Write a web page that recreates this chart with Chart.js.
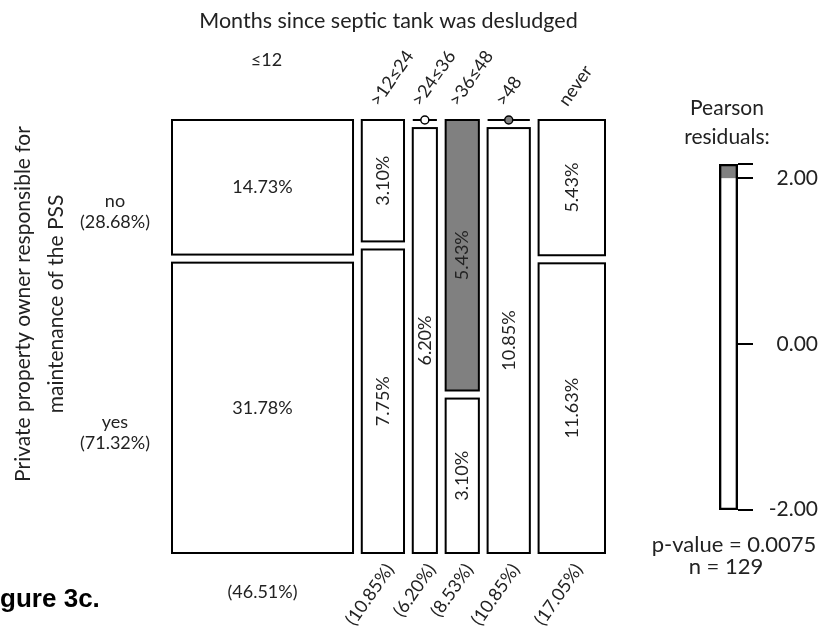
<!DOCTYPE html>
<html>
<head>
<meta charset="utf-8">
<script src="https://cdn.jsdelivr.net/npm/chart.js@4.4.1/dist/chart.umd.min.js"></script>
<style>
  html, body { margin: 0; padding: 0; background: #fff; }
  #wrap { position: relative; width: 818px; height: 630px; overflow: hidden; }
  #mosaic { position: absolute; left: 0; top: 0; }
  #legend { position: absolute; left: 700px; top: 150px; }
</style>
</head>
<body>
<div id="wrap">
  <canvas id="mosaic" width="818" height="630"></canvas>
  <canvas id="legend" width="118" height="380"></canvas>
</div>
<script>
// months since desludging (columns) x owner responsible (rows), % of n
const months = ['≤12', '>12≤24', '>24≤36', '>36≤48', '>48', 'never'];
const monthPct = [46.51, 10.85, 6.20, 8.53, 10.85, 17.05];
const owner = ['no', 'yes'];
const ownerPct = [28.68, 71.32];
const noPct = [14.73, 3.10, 0, 5.43, 0, 5.43];
const yesPct = [31.78, 7.75, 6.20, 3.10, 10.85, 11.63];
const n = 129;
const pValue = '0.0075';
const legendTicks = [-2, 0, 2];

const GAP_X = 2.25;
const GAP_Y = 1.9;
const xMax = 100 + GAP_X * (months.length - 1);
const yMax = 100 + GAP_Y;
const SHADE = '#808080';
const TXT = '#222';
const FONT = 'Lato, "Open Sans", sans-serif';
const TILT = -55 * Math.PI / 180;

// pearson residuals from the observed shares
const cells = [noPct, yesPct];
const resid = cells.map((row, r) => row.map((v, c) => {
  const e = ownerPct[r] * monthPct[c] * n / 10000;
  return (v * n / 100 - e) / Math.sqrt(e);
}));
const allRes = resid.flat();
const resMin = Math.min(...allRes);
const resMax = Math.max(...allRes);
const shadeFor = v => Math.abs(v) > 2 ? SHADE : '#fff';

const fmt = v => v.toFixed(2) + '%';

function text(ctx, str, x, y, opts = {}) {
  ctx.save();
  ctx.font = opts.font || '18px ' + FONT;
  ctx.fillStyle = opts.color || TXT;
  ctx.textAlign = opts.align || 'center';
  ctx.textBaseline = 'middle';
  ctx.translate(x, y);
  if (opts.rot) ctx.rotate(opts.rot);
  ctx.fillText(str, 0, 0);
  ctx.restore();
}

const mosaicPlugin = {
  id: 'mosaic',
  afterDraw(chart) {
    const { ctx, scales: { x, y } } = chart;
    let x0 = 0;
    months.forEach((m, c) => {
      const w = noPct[c] + yesPct[c];
      const px0 = x.getPixelForValue(x0);
      const px1 = x.getPixelForValue(x0 + w);
      const cx = (px0 + px1) / 2;
      const split = noPct[c] / w * 100;
      const spans = [[0, split], [split + GAP_Y, yMax]];

      spans.forEach(([a, b], r) => {
        const v = cells[r][c];
        const py0 = y.getPixelForValue(a);
        const py1 = y.getPixelForValue(b);
        ctx.save();
        ctx.strokeStyle = '#000';
        ctx.lineWidth = 2;
        if (v === 0) {
          ctx.beginPath();
          ctx.moveTo(px0, py0);
          ctx.lineTo(px1, py0);
          ctx.stroke();
          ctx.beginPath();
          ctx.arc(cx, py0, 4, 0, Math.PI * 2);
          ctx.fillStyle = shadeFor(resid[r][c]);
          ctx.fill();
          ctx.lineWidth = 1.5;
          ctx.stroke();
        } else {
          ctx.fillStyle = shadeFor(resid[r][c]);
          ctx.fillRect(px0, py0, px1 - px0, py1 - py0);
          ctx.strokeRect(px0, py0, px1 - px0, py1 - py0);
        }
        ctx.restore();
        if (v > 0) {
          const wide = px1 - px0 > 80;
          text(ctx, fmt(v), cx, (py0 + py1) / 2, { rot: wide ? 0 : -Math.PI / 2 });
        }
      });

      // column labels top and bottom
      if (px1 - px0 > 80) {
        text(ctx, m, cx + 4, 60);
        text(ctx, '(' + fmt(monthPct[c]) + ')', cx, 592);
      } else {
        text(ctx, m, cx - 9, 104, { align: 'left', rot: TILT });
        text(ctx, '(' + fmt(monthPct[c]) + ')', cx + 7, 566, { align: 'right', rot: TILT });
      }
      x0 += w + GAP_X;
    });

    // row labels
    const w0 = noPct[0] + yesPct[0];
    const cut = noPct[0] / w0 * 100;
    const rows = [[0, cut], [cut + GAP_Y, yMax]];
    owner.forEach((o, r) => {
      const cy = (y.getPixelForValue(rows[r][0]) + y.getPixelForValue(rows[r][1])) / 2 + 24;
      text(ctx, o, 115, cy - 10);
      text(ctx, '(' + fmt(ownerPct[r]) + ')', 115, cy + 11);
    });

    // titles
    const midX = (x.left + x.right) / 2;
    text(ctx, 'Months since septic tank was desludged', midX, 21, { font: '21.5px ' + FONT });
    text(ctx, 'Private property owner responsible for', 23, 304, { font: '21px ' + FONT, rot: -Math.PI / 2 });
    text(ctx, 'maintenance of the PSS', 56, 304, { font: '21px ' + FONT, rot: -Math.PI / 2 });

    // legend captions
    text(ctx, 'Pearson', 727, 108, { font: '21px ' + FONT });
    text(ctx, 'residuals:', 727, 137, { font: '21px ' + FONT });
    text(ctx, 'p-value = ' + pValue, 734, 545, { font: '22px ' + FONT });
    text(ctx, 'n = ' + n, 726, 567, { font: '22px ' + FONT });

    text(ctx, 'Figure 3c.', -23, 600, { align: 'left', color: '#000', font: 'bold 26px "Liberation Sans", Arial, sans-serif' });
  }
};

new Chart(document.getElementById('mosaic'), {
  type: 'scatter',
  data: { datasets: [{ data: [] }] },
  options: {
    responsive: false,
    animation: false,
    layout: { padding: { left: 172, right: 213, top: 120, bottom: 77 } },
    scales: {
      x: { display: false, min: 0, max: xMax },
      y: { display: false, min: 0, max: yMax, reverse: true }
    },
    plugins: { legend: { display: false }, tooltip: { enabled: false } }
  },
  plugins: [mosaicPlugin]
});

// shading legend
const barOpts = { barPercentage: 1, categoryPercentage: 1, grouped: false, borderSkipped: false };
new Chart(document.getElementById('legend'), {
  type: 'bar',
  data: {
    labels: [''],
    datasets: [
      { ...barOpts, data: [[resMin, resMax]], backgroundColor: 'rgba(0,0,0,0)', borderColor: '#000', borderWidth: 2 },
      { ...barOpts, data: [[2, resMax]], backgroundColor: SHADE, borderWidth: 0 },
      { ...barOpts, data: [[resMin, -2]], backgroundColor: SHADE, borderWidth: 0 },
      { ...barOpts, data: [[resMin, resMax]], backgroundColor: '#fff', borderWidth: 0 }
    ]
  },
  options: {
    responsive: false,
    animation: false,
    layout: { padding: { left: 19, right: 0, top: 14, bottom: 20 } },
    scales: {
      x: { display: false },
      y: {
        position: 'right',
        min: resMin,
        max: resMax,
        afterBuildTicks: s => { s.ticks = [...legendTicks, resMax].map(v => ({ value: v })); },
        afterFit: s => { s.width = 80; s.paddingTop = 0; s.paddingBottom = 0; },
        ticks: {
          color: TXT,
          padding: 5,
          crossAlign: 'far',
          font: { family: FONT, size: 21 },
          callback: v => legendTicks.includes(v) ? v.toFixed(2) : ''
        },
        grid: { drawOnChartArea: false, tickLength: 15, color: '#000', lineWidth: 2 },
        border: { display: false }
      }
    },
    plugins: { legend: { display: false }, tooltip: { enabled: false } }
  }
});
</script>
</body>
</html>
